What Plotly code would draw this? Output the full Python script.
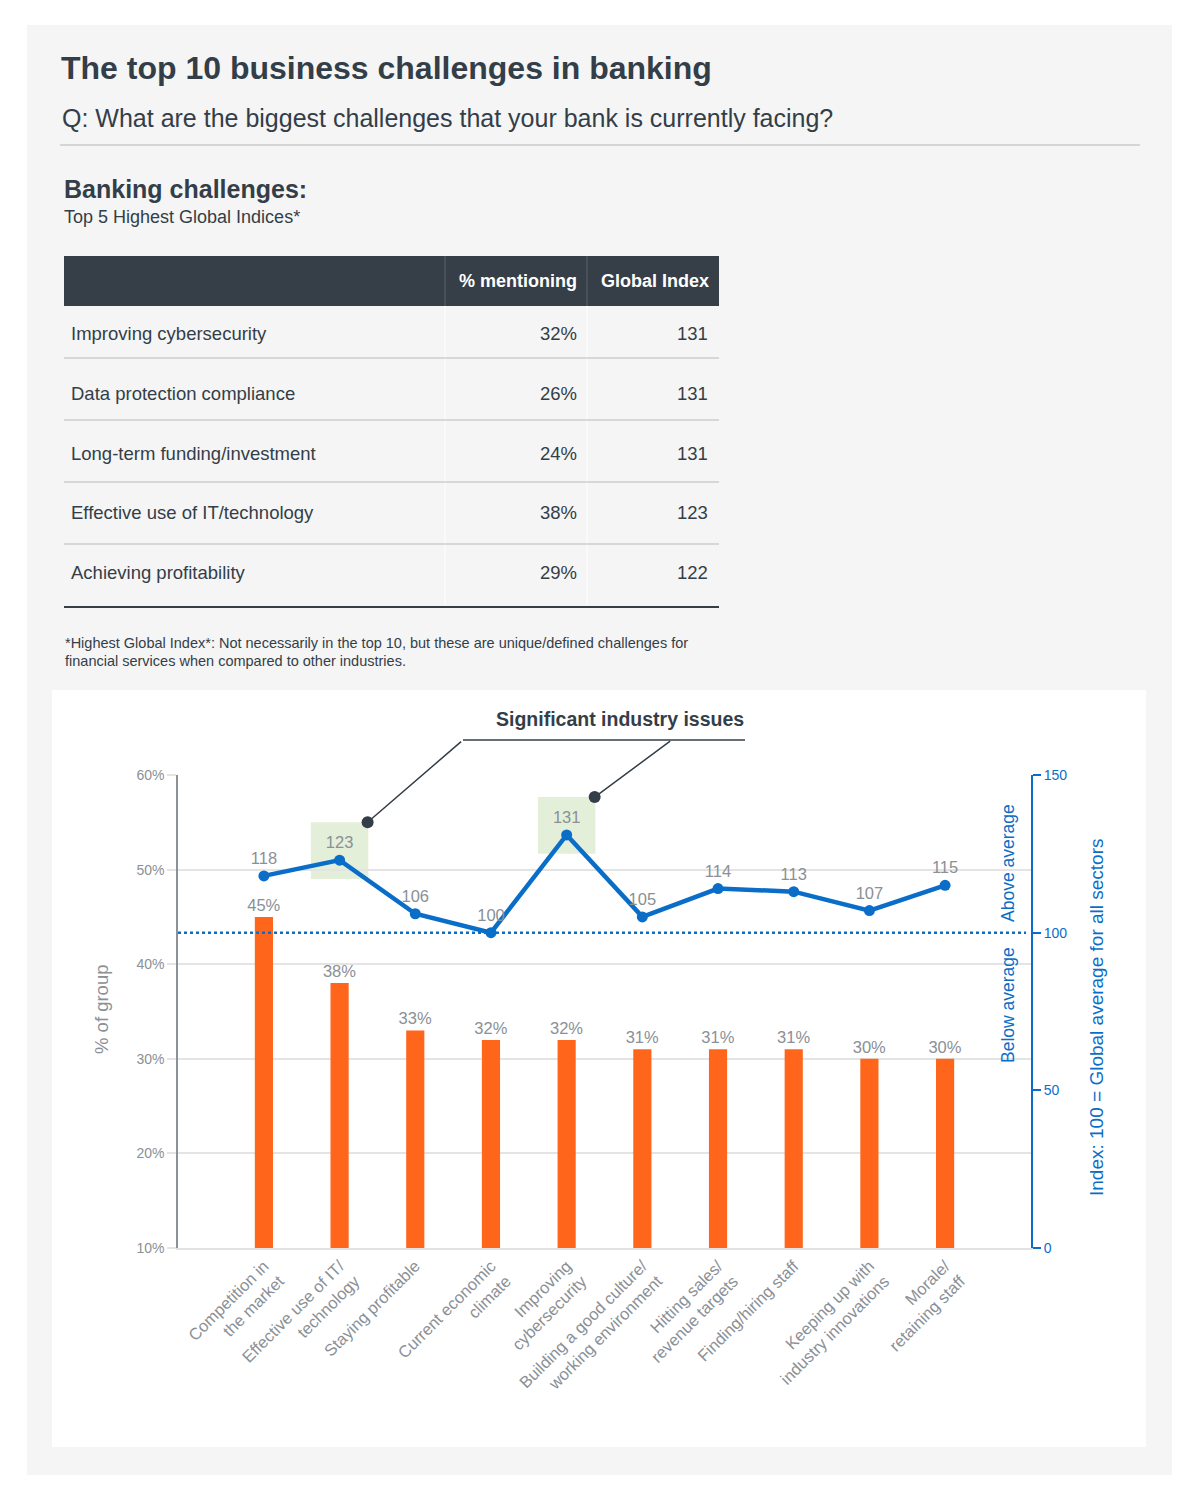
import plotly.graph_objects as go

# ---------------- data ----------------
categories = [
    "Competition in<br>the market",
    "Effective use of IT/<br>technology",
    "Staying profitable",
    "Current economic<br>climate",
    "Improving<br>cybersecurity",
    "Building a good culture/<br>working environment",
    "Hitting sales/<br>revenue targets",
    "Finding/hiring staff",
    "Keeping up with<br>industry innovations",
    "Morale/<br>retaining staff",
]
pct_group = [45, 38, 33, 32, 32, 31, 31, 31, 30, 30]
global_index = [118, 123, 106, 100, 131, 105, 114, 113, 107, 115]
highlighted = ["Effective use of IT/<br>technology", "Improving<br>cybersecurity"]
AVERAGE = 100

left_ticks = [10, 20, 30, 40, 50, 60]
left_tick_labels = ["10%", "20%", "30%", "40%", "50%", "60%"]
right_ticks = [0, 50, 100, 150]

table_challenges = [
    "Improving cybersecurity",
    "Data protection compliance",
    "Long-term funding/investment",
    "Effective use of IT/technology",
    "Achieving profitability",
]
table_pct = [32, 26, 24, 38, 29]
table_index = [131, 131, 131, 123, 122]
table_headers = ["% mentioning", "Global Index"]

# ---------------- helpers ----------------
W, H = 1201, 1506
FONT = "Liberation Sans, Arial, Helvetica, sans-serif"
DARK = "#333e48"
GREY = "#8a9096"
BLUE = "#0a6ec8"
ORANGE = "#ff661c"


def px(x):
    return x / W


def py(y):
    return 1 - y / H


shapes = []
annotations = []


def rect(x0, y0, x1, y1, fill, layer="below"):
    shapes.append(dict(type="rect", xref="paper", yref="paper",
                       x0=px(x0), x1=px(x1), y0=py(y0), y1=py(y1),
                       fillcolor=fill, line=dict(width=0), layer=layer))


def hline(x0, x1, y, color, width):
    shapes.append(dict(type="line", xref="paper", yref="paper",
                       x0=px(x0), x1=px(x1), y0=py(y), y1=py(y),
                       line=dict(color=color, width=width), layer="below"))


def vline(x, y0, y1, color, width):
    shapes.append(dict(type="line", xref="paper", yref="paper",
                       x0=px(x), x1=px(x), y0=py(y0), y1=py(y1),
                       line=dict(color=color, width=width), layer="below"))


def text(x, y, s, size, color=DARK, bold=False, xanchor="left", angle=0):
    if bold:
        s = "<b>" + s + "</b>"
    annotations.append(dict(xref="paper", yref="paper", x=px(x), y=py(y),
                            text=s, showarrow=False, xanchor=xanchor,
                            yanchor="middle", textangle=angle,
                            font=dict(family=FONT, size=size, color=color)))


# ---------------- page background ----------------
rect(27, 25, 1172, 1475, "#f5f5f5")
rect(52, 690, 1146, 1447, "#ffffff")

# titles
text(59, 68, "The top 10 business challenges in banking", 32, bold=True)
text(60, 118, "Q: What are the biggest challenges that your bank is currently facing?", 25)
hline(60, 1140, 145, "#d3d6d8", 2)
text(62, 189, "Banking challenges:", 25, bold=True)
text(62, 217, "Top 5 Highest Global Indices*", 18)

# ---------------- table ----------------
rect(64, 256, 719, 306, "#363f48")
vline(445, 256, 306, "#5a636c", 1)
vline(587, 256, 306, "#5a636c", 1)
vline(445, 306, 606, "#ffffff", 1)
vline(587, 306, 606, "#ffffff", 1)
text(579, 281, table_headers[0], 18, color="#ffffff", bold=True, xanchor="right")
text(711, 281, table_headers[1], 18, color="#ffffff", bold=True, xanchor="right")
row_y = [333, 393, 454, 513, 572]
sep_y = [358, 420, 482, 544]
for yy in sep_y:
    hline(64, 719, yy, "#d5d8db", 2)
hline(64, 719, 607, "#363f48", 2)
for name, p, gi, yy in zip(table_challenges, table_pct, table_index, row_y):
    text(69, yy, name, 18.5)
    text(579, yy, f"{p}%", 18.5, xanchor="right")
    text(710, yy, str(gi), 18.5, xanchor="right")

text(63, 643, "*Highest Global Index*: Not necessarily in the top 10, but these are unique/defined challenges for", 14.5)
text(63, 661, "financial services when compared to other industries.", 14.5)

# ---------------- chart ----------------
xs = list(range(len(categories)))
hi_idx = [categories.index(c) for c in highlighted]

# green highlight boxes
for i in hi_idx:
    shapes.append(dict(type="rect", xref="x", yref="y2",
                       x0=i - 0.38, x1=i + 0.38,
                       y0=global_index[i] - 6, y1=global_index[i] + 12,
                       fillcolor="#e4efd9", line=dict(width=0), layer="below"))

# average dotted line
shapes.append(dict(type="line", xref="paper", yref="y2",
                   x0=px(178), x1=px(1026), y0=AVERAGE, y1=AVERAGE,
                   line=dict(color=BLUE, width=2.5, dash="dot"), layer="above"))

# callout
text(746, 719, "Significant industry issues", 19.5, bold=True, xanchor="right")
hline(463, 745, 740, DARK, 1.5)
tails = [(95, -82), (77, -57)]
for i, (ax, ay) in zip(hi_idx, tails):
    annotations.append(dict(xref="x", yref="y2", x=i + 0.37, y=global_index[i] + 12,
                            text=" ", showarrow=True, arrowhead=0, arrowwidth=1.5,
                            arrowcolor=DARK, ax=ax, ay=ay, standoff=0,
                            font=dict(size=1)))

# axis side texts
text(102, 1010, "% of group", 18.5, color=GREY, xanchor="center", angle=-90)
text(1008, 863, "Above average", 17.5, color=BLUE, xanchor="center", angle=-90)
text(1008, 1005, "Below average", 17.5, color=BLUE, xanchor="center", angle=-90)
text(1097, 1017, "Index: 100 = Global average for all sectors", 19, color=BLUE,
     xanchor="center", angle=-90)

fig = go.Figure()
fig.add_trace(go.Bar(
    x=xs, y=pct_group, width=0.24,
    marker=dict(color=ORANGE, line=dict(width=0)),
    text=[f"{v}%" for v in pct_group], textposition="outside",
    constraintext="none",
    textfont=dict(family=FONT, size=16.5, color=GREY),
    cliponaxis=False, hoverinfo="skip", showlegend=False,
))
fig.add_trace(go.Scatter(
    x=xs, y=global_index, yaxis="y2",
    mode="lines+markers+text",
    line=dict(color=BLUE, width=4.5),
    marker=dict(color=BLUE, size=11),
    text=[str(v) for v in global_index], textposition="top center",
    textfont=dict(family=FONT, size=16.5, color=GREY),
    cliponaxis=False, showlegend=False,
))
fig.add_trace(go.Scatter(
    x=[i + 0.37 for i in hi_idx], y=[global_index[i] + 12 for i in hi_idx],
    yaxis="y2", mode="markers",
    marker=dict(color=DARK, size=12),
    cliponaxis=False, showlegend=False, hoverinfo="skip",
))

fig.update_layout(
    width=W, height=H,
    margin=dict(l=0, r=0, t=0, b=0, pad=0, autoexpand=False),
    paper_bgcolor="#ffffff",
    plot_bgcolor="rgba(0,0,0,0)",
    font=dict(family=FONT, color=GREY),
    showlegend=False,
    bargap=0.7,
    shapes=shapes,
    annotations=annotations,
    xaxis=dict(
        domain=[px(178), px(1031)],
        range=[-1.135, len(categories) - 1 + 1.135],
        tickvals=xs, ticktext=categories, tickangle=-45,
        tickfont=dict(family=FONT, size=16.5, color=GREY),
        showgrid=False, zeroline=False, automargin=False,
        showline=True, linecolor="#e2e2e2", linewidth=2,
        ticks="", fixedrange=True,
    ),
    yaxis=dict(
        domain=[py(1248), py(775)],
        range=[10, 60], tickvals=left_ticks, ticktext=left_tick_labels,
        tickfont=dict(family=FONT, size=14, color=GREY),
        showgrid=True, gridcolor="#e4e4e4", gridwidth=1.5,
        zeroline=False, automargin=False,
        showline=True, linecolor="#8c9196", linewidth=1.5,
        ticks="outside", ticklen=9, tickcolor="#e4e4e4", tickwidth=1.5,
    ),
    yaxis2=dict(
        overlaying="y", side="right", anchor="x",
        range=[0, 150], tickvals=right_ticks,
        tickfont=dict(family=FONT, size=14, color=BLUE),
        showgrid=False, zeroline=False, automargin=False,
        showline=True, linecolor=BLUE, linewidth=2,
        ticks="outside", ticklen=8, tickcolor=BLUE, tickwidth=2,
    ),
)

post = (
    "document.documentElement.style.margin='0';"
    "document.documentElement.style.overflow='hidden';"
    "document.body.style.margin='0';"
    "document.body.style.padding='0';"
    "document.body.style.overflow='hidden';"
    "var d=document.getElementById('{plot_id}');"
    "d.style.position='absolute';d.style.top='0px';d.style.left='0px';"
)

fig.write_html(
    "out.html",
    config={"displayModeBar": False},
    post_script=post,
)
